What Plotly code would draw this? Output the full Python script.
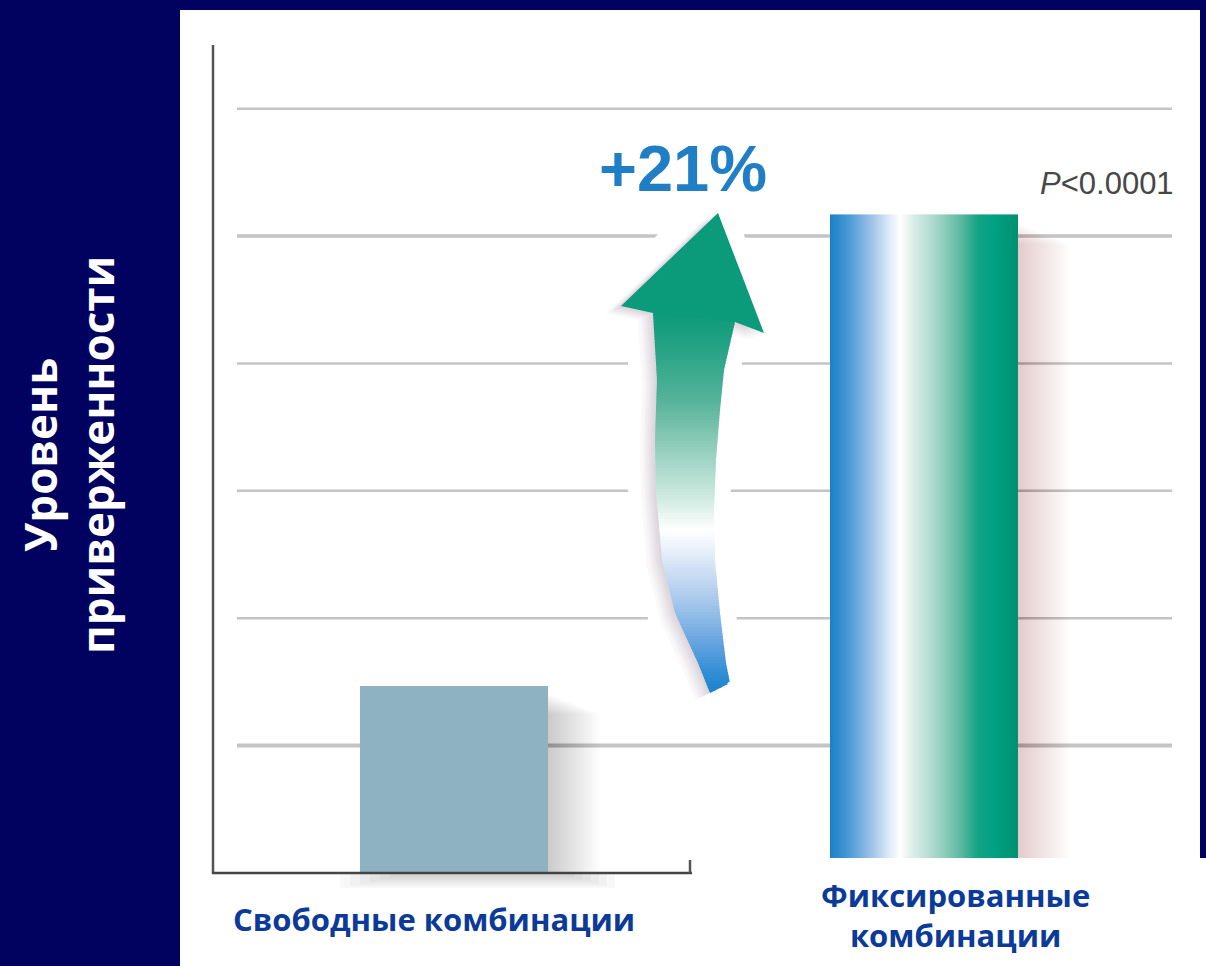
import numpy as np
import plotly.graph_objects as go

# ---------------- data ----------------
categories = ["Свободные комбинации", "Фиксированные<br>комбинации"]
adherence = [1.47, 5.17]
grid_vals = [1, 2, 3, 4, 5, 6]
change_label = "+21%"
p_label = "<i>P</i>&lt;0.0001"
y_title = "Уровень<br>приверженности"

# ---------------- layout geometry / styles ----------------
W, H = 1206, 966
ML, MR, MT, MB = 237, 34, 45, 93
PW, PH = W - ML - MR, H - MT - MB
XR = [-0.4617, 1.5277]
YR = [0, 6.5]
BAR_W = 0.4
GRID_WIDTHS = [4, 2.5, 2.5, 2.5, 3.5, 2.5]

NAVY = "#01015F"
BAR1 = "#8FB2C3"
LABEL_BLUE = "#0B3A99"


def xp(px):  # pixel -> paper x
    return (px - ML) / PW


def yp(py):  # pixel -> paper y
    return (H - MB - py) / PH


def xd(px):  # pixel -> data x
    return XR[0] + (px - ML) / PW * (XR[1] - XR[0])


def yd(py):  # pixel -> data y
    return YR[0] + (H - MB - py) / PH * (YR[1] - YR[0])


def path_from(points, dx=0, dy=0):
    s = "M " + " L ".join(f"{xd(x + dx):.5f},{yd(y + dy):.5f}" for x, y in points)
    return s + " Z"


def hex2rgb(h):
    h = h.lstrip("#")
    return tuple(int(h[i:i + 2], 16) for i in (0, 2, 4))


def interp_color(stops, v):
    ys = [s[0] for s in stops]
    if v <= ys[0]:
        return stops[0][1]
    if v >= ys[-1]:
        return stops[-1][1]
    for i in range(len(stops) - 1):
        if ys[i] <= v <= ys[i + 1]:
            t = (v - ys[i]) / (ys[i + 1] - ys[i])
            a, b = hex2rgb(stops[i][1]), hex2rgb(stops[i + 1][1])
            c = tuple(int(round(a[k] + (b[k] - a[k]) * t)) for k in range(3))
            return "rgb(%d,%d,%d)" % c


fig = go.Figure()

# gradient fill for the fixed-combination bar (heatmap under a transparent bar)
grad_scale = [
    [0.0, "#1A80C8"], [0.08, "#3F94D2"], [0.213, "#98BFE6"], [0.309, "#D9E8F7"],
    [0.372, "#FFFFFF"], [0.436, "#DCEFE9"], [0.559, "#A9D7CA"], [0.691, "#5FB9A1"],
    [0.787, "#14A386"], [0.878, "#00A082"], [1.0, "#009070"],
]
ncol = 188
edges = np.linspace(1 - BAR_W / 2, 1 + BAR_W / 2, ncol + 1)
zrow = [(np.arange(ncol) + 0.5) / ncol]
fig.add_trace(go.Heatmap(
    x=edges, y=[0, adherence[1]], z=zrow, colorscale=grad_scale,
    zmin=0, zmax=1, showscale=False, hoverinfo="skip",
))

fig.add_trace(go.Bar(
    x=[0, 1], y=adherence, width=BAR_W,
    marker=dict(color=[BAR1, "rgba(0,0,0,0)"], line=dict(width=0)),
    hovertext=[c.replace("<br>", " ") for c in categories], hoverinfo="text+y",
))

shapes = []
# white slide panel
shapes.append(dict(type="rect", xref="paper", yref="paper", x0=xp(180), x1=xp(1200),
                   y0=yp(10), y1=yp(966), fillcolor="white", line_width=0, layer="below"))
shapes.append(dict(type="rect", xref="paper", yref="paper", x0=xp(1199), x1=xp(1206),
                   y0=yp(858), y1=yp(966), fillcolor="white", line_width=0, layer="below"))
# grid lines
for g, gw in zip(grid_vals, GRID_WIDTHS):
    shapes.append(dict(type="line", xref="paper", yref="y", x0=0, x1=1, y0=g, y1=g,
                       line=dict(color="#C4C4C4", width=gw), layer="below"))
# soft bar shadows
NS = 26
for i in range(NS):
    w = 2 * (i + 1)
    shapes.append(dict(type="rect", xref="x", yref="y",
                       x0=xd(546), x1=xd(548 + w), y0=0, y1=yd(694 + i * 0.8),
                       fillcolor="rgba(0,0,0,0.0075)", line_width=0, layer="below"))
    shapes.append(dict(type="rect", xref="x", yref="y",
                       x0=xd(1016), x1=xd(1018 + w), y0=0, y1=yd(224 + i * 0.8),
                       fillcolor="rgba(70,40,60,0.0075)", line_width=0, layer="below"))
for i in range(6):
    shapes.append(dict(type="rect", xref="paper", yref="paper",
                       x0=xp(340 + 10 * i), x1=xp(615 - 8 * i), y0=yp(873), y1=yp(875 + 2.2 * (6 - i)),
                       fillcolor="rgba(0,0,0,0.028)", line_width=0, layer="below"))

# ---------- curved arrow ----------
Ledge = [(653, 313), (657, 380), (655, 440), (656, 490), (662, 560), (675, 613), (698, 663), (710, 693)]
Redge = [(737, 312), (735, 322), (724, 370), (720, 410), (716, 460), (714, 510), (715, 560),
         (720, 613), (726, 663), (730, 683)]
head = [(718, 213), (764, 333), (735, 322), (653, 313), (621, 306)]
outline = [(718, 213), (764, 333), (735, 322)] + Redge[2:] + list(reversed(Ledge)) + [(621, 306)]

# white halo that interrupts grid lines
for ang in np.linspace(0, 2 * np.pi, 16, endpoint=False):
    shapes.append(dict(type="path", xref="x", yref="y",
                       path=path_from(outline, -6 + 22 * np.cos(ang), 22 * np.sin(ang)),
                       fillcolor="white", line_width=0, layer="below"))
# soft shadow
for dx, dy in [(-15, 7), (-12, 6), (-10, 5), (-8, 4), (-6, 3), (-4, 2), (-2, 1)]:
    shapes.append(dict(type="path", xref="x", yref="y", path=path_from(outline, dx, dy),
                       fillcolor="rgba(100,80,100,0.035)", line_width=0, layer="below"))

shaft_stops = [(312, "#0B9A7A"), (350, "#27A386"), (400, "#55B398"), (450, "#95CFBD"),
               (500, "#D2EBE3"), (530, "#FFFFFF"), (560, "#DCE8F7"), (600, "#A9C9EC"),
               (640, "#6AA6E0"), (670, "#3590D6"), (693, "#1A82CC")]


def edge_x(edge, y):
    ys = [p[1] for p in edge]
    xs = [p[0] for p in edge]
    return float(np.interp(y, ys, xs))


def right_x(y):
    if y <= 683:
        return edge_x(Redge, y)
    return 730 + (710 - 730) * (y - 683) / 10.0


step = 3
y = 312
while y < 693:
    y1 = min(y + step, 693)
    yb = min(y1 + 0.8, 693)
    pts = [(edge_x(Ledge, y), y), (right_x(y), y), (right_x(yb), yb), (edge_x(Ledge, yb), yb)]
    col = interp_color(shaft_stops, (y + y1) / 2)
    shapes.append(dict(type="path", xref="x", yref="y", path=path_from(pts),
                       fillcolor=col, line_width=0, layer="below"))
    y = y1
shapes.append(dict(type="path", xref="x", yref="y", path=path_from(head),
                   fillcolor="#0B9A7A", line_width=0, layer="below"))

# axis lines and cover of the bottom right (cropped picture)
shapes.append(dict(type="rect", xref="paper", yref="paper", x0=xp(694), x1=xp(1206),
                   y0=yp(858), y1=yp(966), fillcolor="white", line_width=0, layer="above"))
shapes.append(dict(type="line", xref="paper", yref="paper", x0=xp(213), x1=xp(213),
                   y0=yp(45), y1=yp(874), line=dict(color="#555555", width=2.5), layer="above"))
shapes.append(dict(type="line", xref="paper", yref="paper", x0=xp(212), x1=xp(692),
                   y0=yp(873), y1=yp(873), line=dict(color="#444444", width=2.5), layer="above"))
shapes.append(dict(type="line", xref="paper", yref="paper", x0=xp(690), x1=xp(690),
                   y0=yp(860), y1=yp(873), line=dict(color="#555555", width=2.5), layer="above"))

annotations = [
    dict(text=f"<b>{y_title}</b>", xref="paper", yref="paper", x=xp(68), y=yp(455),
         textangle=-90, showarrow=False, xanchor="center", yanchor="middle",
         font=dict(family="Open Sans", size=44, color="white")),
    dict(text=f"<b>{categories[0]}</b>", xref="paper", yref="paper", x=xp(434), y=yp(919),
         showarrow=False, xanchor="center", yanchor="middle",
         font=dict(family="Open Sans", size=31, color=LABEL_BLUE)),
    dict(text=f"<b>{categories[1]}</b>", xref="paper", yref="paper", x=xp(955), y=yp(915),
         showarrow=False, xanchor="center", yanchor="middle",
         font=dict(family="Open Sans", size=31, color=LABEL_BLUE)),
    dict(text=f"<b>{change_label}</b>", xref="paper", yref="paper", x=xp(683), y=yp(168),
         showarrow=False, xanchor="center", yanchor="middle",
         font=dict(family="Liberation Sans", size=65, color="#1F7EC6")),
    dict(text=p_label, xref="paper", yref="paper", x=xp(1176), y=yp(184),
         showarrow=False, xanchor="right", yanchor="middle",
         font=dict(family="Liberation Sans", size=31, color="#474747")),
]

fig.update_layout(
    width=W, height=H,
    margin=dict(l=ML, r=MR, t=MT, b=MB, pad=0),
    paper_bgcolor=NAVY, plot_bgcolor="rgba(0,0,0,0)",
    showlegend=False,
    xaxis=dict(range=XR, showgrid=False, zeroline=False, showline=False,
               showticklabels=False, ticks="", automargin=False, fixedrange=True),
    yaxis=dict(range=YR, tickvals=grid_vals, showgrid=False, zeroline=False,
               showline=False, showticklabels=False, ticks="", automargin=False,
               fixedrange=True),
    shapes=shapes,
    annotations=annotations,
    bargap=0,
)

fig.write_html("out.html", config={"displayModeBar": False})
